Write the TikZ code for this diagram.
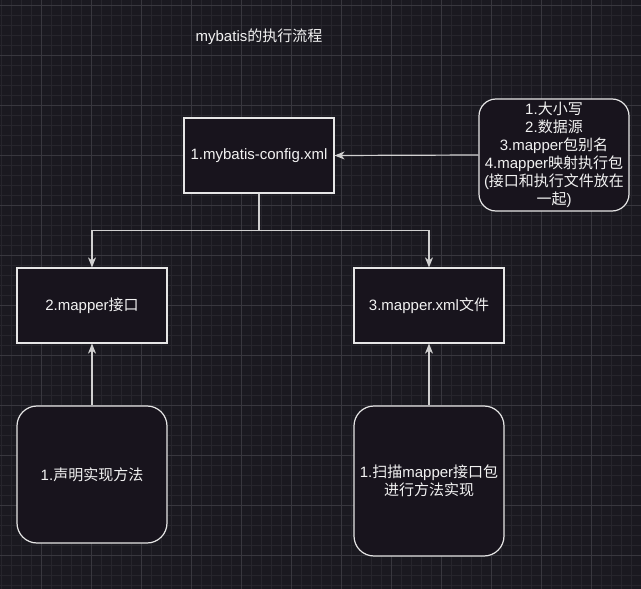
\documentclass[tikz,border=0pt]{standalone}
\usepackage{fontspec}
\setmainfont{Liberation Sans}
\newfontfamily\cjk{Noto Sans CJK SC}
\usetikzlibrary{arrows.meta}
\definecolor{bgc}{HTML}{1A1920}
\definecolor{boxfill}{HTML}{18141D}
\definecolor{minorc}{HTML}{26252C}
\definecolor{majorc}{HTML}{38373E}
\definecolor{strokec}{HTML}{E6E6E6}
\definecolor{linec}{HTML}{D0D0D0}
\definecolor{txtc}{HTML}{F2F2F2}
\tikzset{
  basebox/.style={draw=strokec, fill=boxfill, line width=1.2pt, text=txtc, align=center,
    font=\fontsize{15}{18}\selectfont, inner sep=2pt},
  sqbox/.style={basebox, minimum width=150pt, minimum height=75pt},
  rbox/.style={basebox, rounded corners=#1},
  conn/.style={draw=linec, line width=1.2pt},
  arr/.style={conn, -{Stealth[length=10pt, width=8pt, inset=3pt]}},
  minorline/.style={draw=minorc, line width=0.6pt},
  majorline/.style={draw=majorc, line width=0.8pt}
}
\begin{document}
\begin{tikzpicture}[x=1pt,y=-1pt]
\fill[bgc] (0,0) rectangle (641,589);
\useasboundingbox (0,0) rectangle (641,589);
\foreach \x in {1.5,11.5,...,641} \draw[minorline] (\x,0) -- (\x,589);
\foreach \y in {5,15,...,589} \draw[minorline] (0,\y) -- (641,\y);
\foreach \x in {41.5,91.5,...,641} \draw[majorline] (\x,0) -- (\x,589);
\foreach \y in {5,55,...,589} \draw[majorline] (0,\y) -- (641,\y);

\node[text=txtc, font=\fontsize{15}{18}\selectfont] (title) at (259,37) {mybatis{\cjk 的执行流程}};

\node[sqbox] (cfg) at (259,155.5) {1.mybatis-config.xml};
\node[sqbox] (m1) at (92,305.5) {2.mapper{\cjk 接口}};
\node[sqbox] (m2) at (429,305.5) {3.mapper.xml{\cjk 文件}};
\node[rbox=20pt, minimum width=150pt, minimum height=137pt] (b1) at (92,474.5) {1.{\cjk 声明实现方法}};
\node[rbox=20pt, minimum width=150pt, minimum height=150pt] (b2) at (429,481) {1.{\cjk 扫描}mapper{\cjk 接口包}\\{\cjk 进行方法实现}};
\node[rbox=17pt, minimum width=150pt, minimum height=112pt] (note) at (554,155) {1.{\cjk 大小写}\\2.{\cjk 数据源}\\3.mapper{\cjk 包别名}\\4.mapper{\cjk 映射执行包}\\({\cjk 接口和执行文件放在}\\{\cjk 一起})};

\draw[conn] (cfg.south) -- ++(0,37) coordinate (j);
\draw[arr] (j) -| (m1.north);
\draw[arr] (j) -| (m2.north);
\draw[arr] (b1.north) -- (m1.south);
\draw[arr] (b2.north) -- (m2.south);
\draw[arr] (note.west) -- (cfg.east);
\end{tikzpicture}
\end{document}
